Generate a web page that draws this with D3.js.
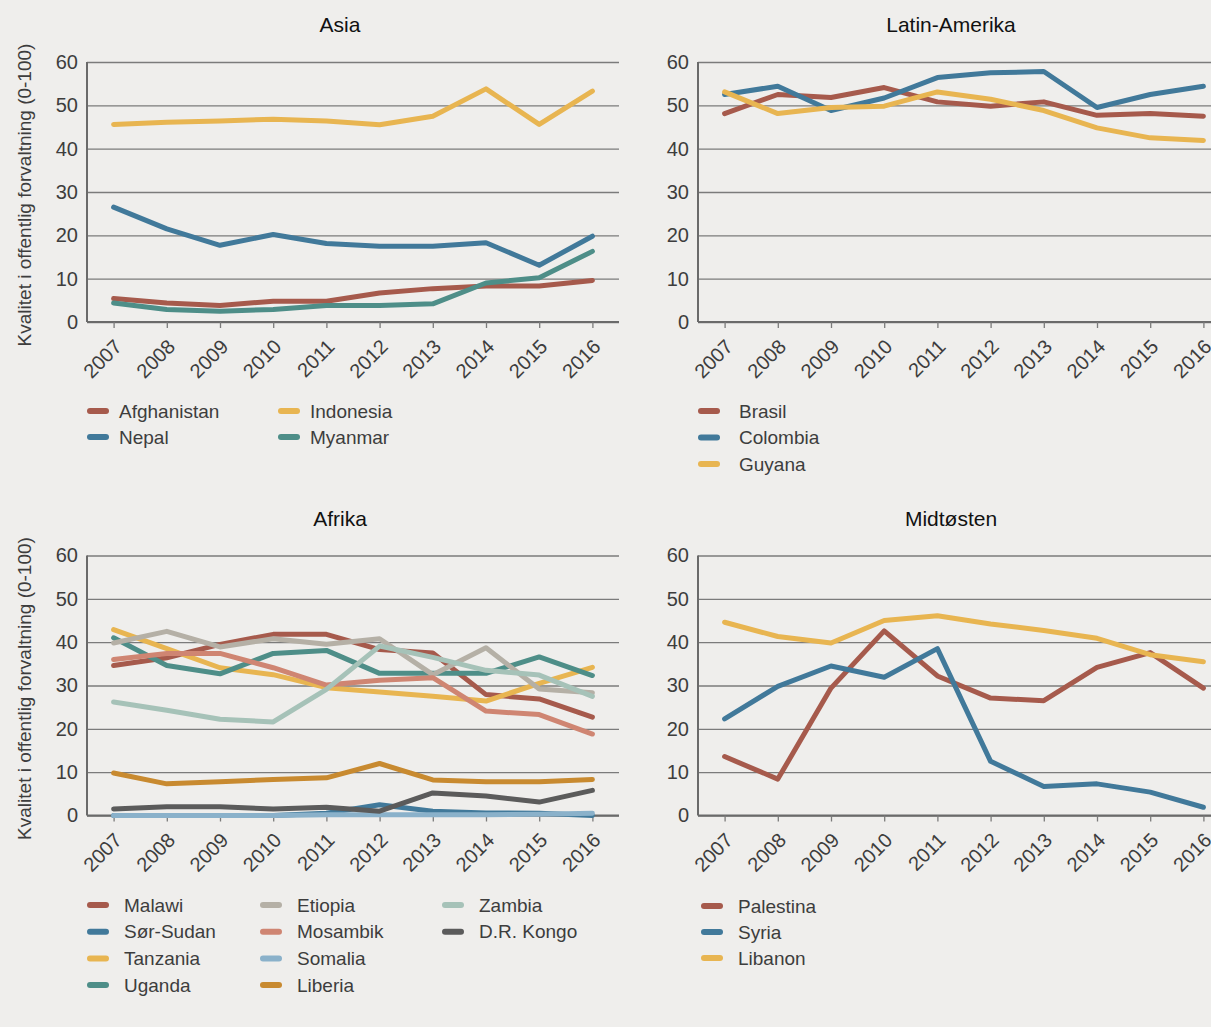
<!DOCTYPE html>
<html>
<head>
<meta charset="utf-8">
<script src="https://cdn.jsdelivr.net/npm/d3@7"></script>
<style>
  html, body { margin: 0; padding: 0; background: #efeeec; }
  svg { display: block; font-family: 'Liberation Sans', Arial, sans-serif; }
</style>
</head>
<body>
<div id="chart"></div>
<script>
const years = [2007, 2008, 2009, 2010, 2011, 2012, 2013, 2014, 2015, 2016];
const yTicks = [0, 10, 20, 30, 40, 50, 60];
const yTitle = 'Kvalitet i offentlig forvaltning (0-100)';

// Asia
const afghanistan = [5.4, 4.4, 3.8, 4.8, 4.8, 6.7, 7.7, 8.3, 8.3, 9.6];
const nepal = [26.5, 21.5, 17.7, 20.2, 18.1, 17.5, 17.5, 18.3, 13.1, 19.8];
const indonesia = [45.6, 46.1, 46.4, 46.8, 46.4, 45.5, 47.5, 53.8, 45.6, 53.3];
const myanmar = [4.4, 2.9, 2.5, 2.9, 3.8, 3.8, 4.2, 9.0, 10.2, 16.3];

// Latin-Amerika
const brasil = [48.1, 52.5, 51.8, 54.1, 50.8, 49.8, 50.8, 47.7, 48.1, 47.5];
const colombia = [52.5, 54.4, 48.8, 51.7, 56.4, 57.5, 57.8, 49.5, 52.5, 54.4];
const guyana = [53.1, 48.1, 49.5, 49.8, 53.1, 51.4, 48.8, 44.8, 42.5, 41.9];

// Afrika
const malawi = [34.6, 36.4, 39.5, 41.8, 41.8, 38.3, 37.5, 27.9, 26.9, 22.7];
const sorSudan = [0, 0, 0, 0, 0.5, 2.5, 1.0, 0.6, 0.5, 0];
const tanzania = [42.9, 38.5, 34.1, 32.5, 29.5, 28.5, 27.5, 26.4, 30.5, 34.2];
const uganda = [41.0, 34.6, 32.7, 37.4, 38.1, 32.8, 32.8, 32.8, 36.6, 32.3];
const etiopia = [39.8, 42.5, 38.9, 40.8, 39.5, 40.8, 32.5, 38.7, 29.2, 28.3];
const mosambik = [36.0, 37.4, 37.4, 34.1, 30.1, 31.2, 31.8, 24.1, 23.3, 18.8];
const somalia = [0, 0, 0, 0, 0.2, 0.2, 0.2, 0.2, 0.3, 0.5];
const liberia = [9.8, 7.3, 7.8, 8.3, 8.7, 12.0, 8.2, 7.8, 7.8, 8.3];
const zambia = [26.2, 24.3, 22.2, 21.6, 29.1, 39.1, 36.5, 33.5, 32.4, 27.5];
const drKongo = [1.5, 2.0, 2.0, 1.5, 1.9, 1.0, 5.2, 4.5, 3.1, 5.8];

// Midtøsten
const palestina = [13.6, 8.4, 29.4, 42.6, 32.2, 27.1, 26.5, 34.2, 37.6, 29.4];
const syria = [22.3, 29.8, 34.5, 31.9, 38.5, 12.5, 6.7, 7.3, 5.4, 1.9];
const libanon = [44.6, 41.3, 39.8, 45.0, 46.1, 44.2, 42.7, 40.9, 37.1, 35.5];

const c = {
  red: '#a65a4c', blue: '#41799a', yellow: '#e8b551', teal: '#4e8e88',
  beige: '#b5b0a6', salmon: '#cf8572', lightblue: '#8ab1ca', ochre: '#c88a30',
  sage: '#a6c2b8', dark: '#5b5b5b'
};

const panels = [
  {
    title: 'Asia', left: 87, top: 62, yLabel: true,
    legend: { y: 411, rowH: 26, cols: [87, 278], textDx: 32, rows: 2 },
    series: [
      { name: 'Afghanistan', values: afghanistan, color: c.red },
      { name: 'Nepal', values: nepal, color: c.blue },
      { name: 'Indonesia', values: indonesia, color: c.yellow },
      { name: 'Myanmar', values: myanmar, color: c.teal }
    ]
  },
  {
    title: 'Latin-Amerika', left: 698, top: 62, yLabel: false,
    legend: { y: 411, rowH: 26.5, cols: [698], textDx: 41, rows: 3 },
    series: [
      { name: 'Brasil', values: brasil, color: c.red },
      { name: 'Colombia', values: colombia, color: c.blue },
      { name: 'Guyana', values: guyana, color: c.yellow }
    ]
  },
  {
    title: 'Afrika', left: 87, top: 555.5, yLabel: true,
    legend: { y: 905, rowH: 26.7, cols: [87, 260, 442], textDx: 37, rows: 4 },
    series: [
      { name: 'Malawi', values: malawi, color: c.red },
      { name: 'Sør-Sudan', values: sorSudan, color: c.blue },
      { name: 'Tanzania', values: tanzania, color: c.yellow },
      { name: 'Uganda', values: uganda, color: c.teal },
      { name: 'Etiopia', values: etiopia, color: c.beige },
      { name: 'Mosambik', values: mosambik, color: c.salmon },
      { name: 'Somalia', values: somalia, color: c.lightblue },
      { name: 'Liberia', values: liberia, color: c.ochre },
      { name: 'Zambia', values: zambia, color: c.sage },
      { name: 'D.R. Kongo', values: drKongo, color: c.dark }
    ]
  },
  {
    title: 'Midtøsten', left: 698, top: 555.5, yLabel: false,
    legend: { y: 906, rowH: 26, cols: [701], textDx: 37, rows: 3 },
    series: [
      { name: 'Palestina', values: palestina, color: c.red },
      { name: 'Syria', values: syria, color: c.blue },
      { name: 'Libanon', values: libanon, color: c.yellow }
    ]
  }
];

const W = 1211, H = 1027;
const plotW = 532, plotH = 260;

const svg = d3.select('#chart').append('svg')
  .attr('width', W).attr('height', H);

svg.append('rect').attr('width', W).attr('height', H).attr('fill', '#efeeec');

panels.forEach((p) => {
  const g = svg.append('g').attr('transform', `translate(${p.left}, ${p.top})`);

  const x = d3.scalePoint().domain(years).range([0, plotW]).padding(0.5);
  const y = d3.scaleLinear().domain([0, 60]).range([plotH, 0]);

  // grid lines
  g.append('g')
    .call(d3.axisLeft(y).tickValues(yTicks).tickSize(-plotW).tickFormat(''))
    .call((s) => s.select('.domain').remove())
    .call((s) => s.selectAll('line').attr('stroke', '#7b7b7b').attr('stroke-width', 1.3));

  // y tick labels
  g.append('g')
    .call(d3.axisLeft(y).tickValues(yTicks).tickSize(0).tickPadding(9))
    .call((s) => s.select('.domain').remove())
    .call((s) => s.selectAll('text')
      .attr('font-size', 20).attr('fill', '#3d3d3d')
      .attr('font-family', "'Liberation Sans', Arial, sans-serif"));

  // y axis line
  g.append('line')
    .attr('x1', 0).attr('x2', 0).attr('y1', y(60)).attr('y2', y(0))
    .attr('stroke', '#6a6a6a').attr('stroke-width', 2);

  // x axis
  const xAxis = g.append('g')
    .attr('transform', `translate(0, ${plotH})`)
    .call(d3.axisBottom(x).tickSize(6).tickSizeOuter(0));
  xAxis.select('.domain').attr('stroke', '#6a6a6a').attr('stroke-width', 2)
    .attr('d', `M0,0H${plotW}`);
  xAxis.selectAll('.tick line').attr('stroke', '#7b7b7b').attr('stroke-width', 1.3);
  xAxis.selectAll('.tick text')
    .attr('font-size', 20).attr('fill', '#3d3d3d')
    .attr('font-family', "'Liberation Sans', Arial, sans-serif")
    .attr('text-anchor', 'end')
    .attr('y', 0).attr('dy', 0)
    .attr('transform', 'translate(9, 26) rotate(-45)');

  // lines
  const line = d3.line()
    .x((d, i) => x(years[i]))
    .y((d) => y(d));

  g.selectAll('path.series')
    .data(p.series)
    .enter()
    .append('path')
    .attr('class', 'series')
    .attr('fill', 'none')
    .attr('stroke', (d) => d.color)
    .attr('stroke-width', 5)
    .attr('stroke-linejoin', 'round')
    .attr('stroke-linecap', 'round')
    .attr('d', (d) => line(d.values));

  // title
  svg.append('text')
    .attr('x', p.left + 253)
    .attr('y', p.top - 30)
    .attr('text-anchor', 'middle')
    .attr('font-size', 21)
    .attr('fill', '#111')
    .text(p.title);

  // y title
  if (p.yLabel) {
    svg.append('text')
      .attr('transform', `translate(31, ${p.top + plotH / 2 + 3}) rotate(-90)`)
      .attr('text-anchor', 'middle')
      .attr('font-size', 19)
      .attr('fill', '#3d3d3d')
      .text(yTitle);
  }

  // legend
  const L = p.legend;
  const items = svg.append('g').selectAll('g')
    .data(p.series)
    .enter()
    .append('g')
    .attr('transform', (d, i) => {
      const col = Math.floor(i / L.rows);
      const row = i % L.rows;
      return `translate(${L.cols[col]}, ${L.y + row * L.rowH})`;
    });

  items.append('line')
    .attr('x1', 3).attr('x2', 19)
    .attr('stroke', (d) => d.color)
    .attr('stroke-width', 6)
    .attr('stroke-linecap', 'round');

  items.append('text')
    .attr('x', L.textDx)
    .attr('dy', '0.35em')
    .attr('font-size', 19)
    .attr('fill', '#3d3d3d')
    .text((d) => d.name);
});
</script>
</body>
</html>
